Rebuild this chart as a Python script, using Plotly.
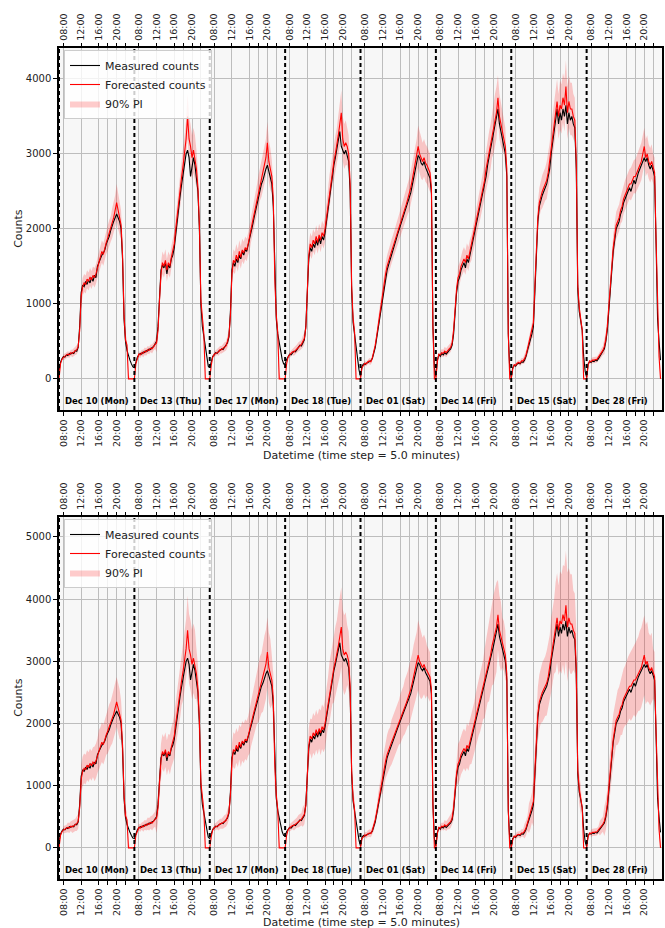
import plotly.graph_objects as go

# ---------------- data: 20-minute samples from 07:00 to 23:40 for each day ----------------
day_labels = ["Dec 10 (Mon)", "Dec 13 (Thu)", "Dec 17 (Mon)", "Dec 18 (Tue)",
              "Dec 01 (Sat)", "Dec 14 (Fri)", "Dec 15 (Sat)", "Dec 28 (Fri)"]
tick_hours = [1, 5, 9, 11, 13, 15]          # offsets (h) from 07:00
tick_texts = ["08:00", "12:00", "16:00", "", "20:00", ""]
hours_per_day = 17
step_h = 1 / 3

measured_d1 = [100, 220, 270, 300, 290, 320, 310, 340, 330, 350, 340, 380, 370, 420, 700, 1150, 1250,
               1230, 1300, 1260, 1320, 1280, 1350, 1300, 1380, 1350, 1500, 1560, 1600, 1650, 1680, 1720,
               1800, 1850, 1900, 1980, 2050, 2100, 2150, 2200, 2150, 2100, 2000, 1600, 800, 500, 380,
               300, 250, 200, 160]
measured_d2 = [150, 230, 290, 320, 340, 330, 360, 350, 380, 370, 400, 390, 420, 430, 470, 500, 700,
               1100, 1450, 1520, 1480, 1550, 1400, 1520, 1480, 1600, 1650, 1750, 1950, 2150, 2300, 2450,
               2600, 2750, 2900, 3000, 3050, 2950, 2700, 2850, 2950, 2850, 2700, 2500, 2000, 1000, 700,
               550, 400, 260, 170]
measured_d3 = [150, 250, 300, 320, 350, 340, 370, 380, 400, 390, 420, 450, 480, 560, 900, 1450, 1550,
               1500, 1600, 1550, 1650, 1600, 1700, 1650, 1720, 1700, 1780, 1850, 1950, 2050, 2150, 2250,
               2350, 2450, 2550, 2600, 2650, 2750, 2800, 2850, 2750, 2700, 2600, 2300, 1300, 800, 600,
               480, 350, 260, 200]
measured_d4 = [200, 260, 300, 330, 320, 350, 370, 360, 400, 420, 450, 440, 480, 520, 700, 1200, 1600,
               1750, 1700, 1800, 1750, 1850, 1780, 1880, 1800, 1900, 1850, 1950, 2100, 2300, 2450, 2600,
               2750, 2850, 2950, 3050, 3150, 3300, 3100, 3050, 3000, 3050, 2950, 2900, 2500, 1200, 750,
               600, 450, 250, 120]
measured_d5 = [30, 170, 200, 190, 210, 220, 220, 240, 270, 330, 420, 550, 680, 820, 980, 1120, 1250,
               1350, 1450, 1520, 1580, 1650, 1720, 1780, 1850, 1920, 1980, 2030, 2100, 2150, 2220, 2280,
               2350, 2400, 2480, 2580, 2680, 2780, 2880, 2980, 2950, 2880, 2850, 2900, 2820, 2780, 2720,
               2680, 2480, 700, 150]
measured_d6 = [30, 250, 320, 300, 340, 320, 350, 330, 360, 380, 400, 450, 600, 900, 1150, 1300, 1350,
               1450, 1500, 1550, 1480, 1600, 1550, 1650, 1700, 1800, 1900, 2000, 2100, 2200, 2300, 2400,
               2500, 2600, 2700, 2850, 2950, 3050, 3150, 3250, 3350, 3450, 3600, 3400, 3300, 3200, 3150,
               3000, 2700, 600, 120]
measured_d7 = [20, 150, 180, 170, 200, 210, 200, 230, 220, 250, 300, 380, 450, 520, 600, 700, 1200,
               1800, 2100, 2300, 2400, 2450, 2500, 2550, 2600, 2700, 2800, 3000, 3150, 3300, 3450, 3600,
               3400, 3550, 3450, 3600, 3500, 3650, 3400, 3550, 3450, 3500, 3400, 3350, 2800, 1200, 900,
               750, 650, 300, 100]
measured_d8 = [20, 200, 230, 220, 240, 230, 250, 240, 270, 300, 330, 360, 400, 500, 650, 900, 1200,
               1500, 1700, 1850, 2000, 2050, 2100, 2200, 2250, 2350, 2400, 2450, 2500, 2550, 2500, 2600,
               2650, 2600, 2700, 2750, 2800, 2850, 2900, 2950, 2900, 2950, 2850, 2800, 2850, 2750, 2700,
               1800, 800, 500, 250]

forecast_d1 = [0, 200, 260, 290, 300, 310, 330, 320, 350, 340, 360, 370, 390, 430, 650, 1100, 1230,
               1280, 1260, 1330, 1300, 1360, 1320, 1380, 1350, 1400, 1480, 1580, 1620, 1700, 1660, 1750,
               1820, 1880, 1950, 2000, 2080, 2150, 2250, 2350, 2250, 2150, 2050, 1650, 850, 520, 450,
               0, 0, 0, 0]
forecast_d2 = [0, 200, 280, 330, 320, 350, 340, 370, 360, 390, 380, 410, 400, 440, 460, 480, 650,
               1050, 1400, 1550, 1500, 1580, 1450, 1550, 1500, 1620, 1700, 1800, 2000, 2200, 2350, 2500,
               2700, 2850, 3000, 3200, 3500, 3200, 3100, 2950, 3050, 2950, 2800, 2550, 2050, 1050, 750,
               600, 0, 0, 0]
forecast_d3 = [0, 180, 290, 330, 340, 360, 360, 390, 390, 410, 430, 440, 500, 580, 850, 1400, 1580,
               1550, 1650, 1580, 1700, 1620, 1720, 1680, 1750, 1720, 1800, 1880, 2000, 2100, 2200, 2300,
               2400, 2500, 2600, 2650, 2750, 2850, 2950, 3150, 2900, 2800, 2700, 2400, 1350, 850, 620,
               0, 0, 0, 0]
forecast_d4 = [0, 200, 290, 320, 340, 360, 360, 380, 410, 430, 440, 460, 500, 540, 680, 1150, 1650,
               1800, 1750, 1850, 1800, 1900, 1820, 1920, 1850, 1950, 1900, 2000, 2150, 2350, 2500, 2650,
               2800, 2900, 3000, 3100, 3250, 3400, 3550, 3200, 3100, 3150, 3100, 3000, 2600, 1250, 800,
               620, 0, 0, 0]
forecast_d5 = [0, 150, 190, 210, 200, 230, 240, 230, 280, 350, 450, 580, 720, 860, 1020, 1150, 1300,
               1400, 1500, 1580, 1620, 1700, 1760, 1820, 1900, 1960, 2020, 2080, 2150, 2200, 2270, 2330,
               2400, 2460, 2550, 2650, 2750, 2850, 2950, 3100, 3000, 2950, 2900, 2950, 2880, 2850, 2800,
               2750, 2550, 700, 0]
forecast_d6 = [0, 230, 330, 320, 350, 340, 370, 350, 380, 400, 420, 480, 650, 950, 1200, 1350, 1400,
               1500, 1550, 1600, 1550, 1650, 1600, 1700, 1750, 1850, 1950, 2050, 2150, 2250, 2350, 2450,
               2550, 2650, 2800, 2900, 3000, 3100, 3250, 3350, 3450, 3550, 3750, 3500, 3400, 3300, 3250,
               3100, 2800, 600, 0]
forecast_d7 = [0, 130, 190, 180, 210, 220, 210, 240, 240, 270, 320, 400, 480, 550, 650, 750, 1250,
               1850, 2150, 2350, 2450, 2500, 2550, 2600, 2650, 2750, 2900, 3100, 3250, 3400, 3550, 3700,
               3500, 3650, 3600, 3750, 3650, 3900, 3550, 3700, 3600, 3600, 3500, 3450, 2900, 1250, 950,
               780, 650, 0, 0]
forecast_d8 = [0, 180, 240, 230, 250, 250, 260, 260, 290, 320, 350, 380, 430, 530, 700, 950, 1250,
               1550, 1750, 1900, 2050, 2100, 2150, 2250, 2300, 2400, 2450, 2500, 2550, 2600, 2600, 2650,
               2700, 2700, 2750, 2800, 2850, 2900, 3000, 3100, 2950, 3000, 2900, 2850, 2900, 2800, 2750,
               1850, 850, 300, 0]

# half-width of the 90% prediction interval, one value per hour (07:00 ... 23:00)
pi_top_d1 = [0, 40, 40, 50, 60, 120, 120, 120, 130, 150, 150, 170, 200, 250, 200, 80, 0]
pi_top_d2 = [0, 40, 50, 50, 60, 120, 150, 150, 150, 170, 200, 250, 300, 300, 250, 100, 0]
pi_top_d3 = [0, 40, 50, 60, 80, 150, 150, 150, 150, 170, 200, 220, 250, 280, 220, 100, 0]
pi_top_d4 = [0, 40, 50, 60, 80, 150, 150, 150, 160, 180, 220, 250, 300, 300, 250, 100, 0]
pi_top_d5 = [0, 30, 40, 50, 100, 150, 150, 160, 170, 180, 200, 220, 250, 280, 250, 250, 100]
pi_top_d6 = [0, 50, 60, 60, 100, 150, 160, 160, 170, 200, 220, 260, 300, 350, 300, 250, 100]
pi_top_d7 = [0, 30, 40, 60, 100, 200, 200, 220, 250, 280, 300, 330, 350, 350, 300, 100, 0]
pi_top_d8 = [0, 40, 40, 60, 100, 150, 180, 180, 200, 200, 220, 230, 250, 250, 230, 200, 50]

pi_bot_d1 = [0, 60, 80, 100, 120, 240, 240, 240, 280, 320, 320, 360, 400, 400, 320, 120, 0]
pi_bot_d2 = [0, 60, 80, 100, 120, 240, 280, 280, 320, 360, 400, 480, 560, 560, 400, 120, 0]
pi_bot_d3 = [0, 60, 80, 100, 120, 280, 280, 320, 320, 360, 400, 480, 560, 560, 400, 120, 0]
pi_bot_d4 = [0, 60, 80, 100, 160, 280, 320, 320, 360, 400, 480, 560, 640, 640, 480, 160, 0]
pi_bot_d5 = [0, 50, 60, 80, 160, 280, 320, 360, 360, 400, 440, 480, 520, 560, 480, 400, 120]
pi_bot_d6 = [0, 60, 80, 100, 200, 320, 320, 360, 400, 440, 480, 560, 640, 720, 560, 400, 120]
pi_bot_d7 = [0, 50, 60, 120, 240, 400, 440, 480, 520, 600, 720, 800, 880, 800, 640, 240, 0]
pi_bot_d8 = [0, 60, 60, 120, 240, 360, 400, 440, 480, 520, 560, 600, 640, 640, 560, 400, 80]

measured_days = [measured_d1, measured_d2, measured_d3, measured_d4,
                 measured_d5, measured_d6, measured_d7, measured_d8]
forecast_days = [forecast_d1, forecast_d2, forecast_d3, forecast_d4,
                 forecast_d5, forecast_d6, forecast_d7, forecast_d8]
pi_top_days = [pi_top_d1, pi_top_d2, pi_top_d3, pi_top_d4, pi_top_d5, pi_top_d6, pi_top_d7, pi_top_d8]
pi_bot_days = [pi_bot_d1, pi_bot_d2, pi_bot_d3, pi_bot_d4, pi_bot_d5, pi_bot_d6, pi_bot_d7, pi_bot_d8]

# ---------------- build series ----------------
xs, meas, fc, lo1, hi1, lo2, hi2 = [], [], [], [], [], [], []
for d in range(len(day_labels)):
    for k, (m, f) in enumerate(zip(measured_days[d], forecast_days[d])):
        xs.append(d * hours_per_day + k * step_h)
        meas.append(m)
        fc.append(f)
        w1 = pi_top_days[d][k // 3]
        w2 = pi_bot_days[d][k // 3]
        lo1.append(max(f - w1, 0)); hi1.append(f + w1)
        lo2.append(max(f - w2, 0)); hi2.append(f + w2)

tickvals, ticktext = [], []
for d in range(len(day_labels)):
    for h, t in zip(tick_hours, tick_texts):
        tickvals.append(d * hours_per_day + h)
        ticktext.append(t)

W, H = 665, 928
xdom = [59 / W, 662 / W]
ydoms = [[1 - 410 / H, 1 - 47.7 / H], [1 - 879 / H, 1 - 516.7 / H]]
yranges = [[-415, 4417], [-500, 5326]]
ytickvals = [[0, 1000, 2000, 3000, 4000], [0, 1000, 2000, 3000, 4000, 5000]]
xrange_ = [0, hours_per_day * len(day_labels)]

fig = go.Figure()
PINK = "rgba(255,0,0,0.2)"
FONT = "DejaVu Sans"

for p, (lo, hi) in enumerate([(lo1, hi1), (lo2, hi2)]):
    xa = "x" if p == 0 else "x3"
    ya = "y" if p == 0 else "y2"
    lg = "legend" if p == 0 else "legend2"
    fig.add_trace(go.Scatter(x=xs, y=lo, xaxis=xa, yaxis=ya, mode="lines",
                             line=dict(width=0), showlegend=False, hoverinfo="skip"))
    fig.add_trace(go.Scatter(x=xs, y=hi, xaxis=xa, yaxis=ya, mode="lines",
                             line=dict(width=0), fill="tonexty", fillcolor=PINK,
                             name="90% PI", legend=lg, legendrank=3))
    fig.add_trace(go.Scatter(x=xs, y=meas, xaxis=xa, yaxis=ya, mode="lines",
                             line=dict(color="black", width=1.1), name="Measured counts",
                             legend=lg, legendrank=1))
    fig.add_trace(go.Scatter(x=xs, y=fc, xaxis=xa, yaxis=ya, mode="lines",
                             line=dict(color="red", width=1.1), name="Forecasted counts",
                             legend=lg, legendrank=2))
    fig.add_trace(go.Scatter(x=[0], y=[0], xaxis=("x2" if p == 0 else "x4"), yaxis=ya,
                             mode="markers", marker=dict(opacity=0), showlegend=False,
                             hoverinfo="skip"))

common_x = dict(range=xrange_, tickmode="array", tickvals=tickvals, ticktext=ticktext,
                tickangle=-90, ticks="outside", ticklen=4, tickwidth=1, tickcolor="black",
                tickfont=dict(family=FONT, size=9.5, color="#222"),
                domain=xdom, zeroline=False)
layout = dict(width=W, height=H, margin=dict(l=0, r=0, t=0, b=0),
              paper_bgcolor="white", plot_bgcolor="#f7f7f7", showlegend=True)

for p in range(2):
    xb = "xaxis" if p == 0 else "xaxis3"
    xt = "xaxis2" if p == 0 else "xaxis4"
    yk = "yaxis" if p == 0 else "yaxis2"
    yref = "y" if p == 0 else "y2"
    xref = "x" if p == 0 else "x3"
    layout[xb] = dict(common_x, anchor=yref, side="bottom", showgrid=True,
                      gridcolor="#bdbdbd", gridwidth=1, showline=True, linecolor="black",
                      linewidth=1.5, mirror=True)
    layout[xt] = dict(common_x, anchor=yref, side="top", overlaying=xref, showgrid=False,
                      showline=False)
    layout[yk] = dict(domain=ydoms[p], anchor=xref, range=yranges[p], tickmode="array",
                      tickvals=ytickvals[p], ticks="outside", ticklen=4, tickwidth=1,
                      tickcolor="black", tickfont=dict(family=FONT, size=10, color="#222"),
                      showgrid=True, gridcolor="#bdbdbd", gridwidth=1, zeroline=False,
                      showline=True, linecolor="black", linewidth=1.5, mirror=True)

legend_common = dict(x=64 / W, xanchor="left", bgcolor="rgba(255,255,255,0.8)",
                     bordercolor="#cccccc", borderwidth=1, traceorder="normal",
                     font=dict(family=FONT, size=11, color="#222"), itemwidth=30,
                     tracegroupgap=0)
layout["legend"] = dict(legend_common, y=1 - 50 / H, yanchor="top")
layout["legend2"] = dict(legend_common, y=1 - 519 / H, yanchor="top")
fig.update_layout(**layout)

shapes, annotations = [], []
for p in range(2):
    xref = "x" if p == 0 else "x3"
    yref = "y domain" if p == 0 else "y2 domain"
    for d in range(len(day_labels)):
        shapes.append(dict(type="line", xref=xref, yref=yref, x0=d * hours_per_day,
                           x1=d * hours_per_day, y0=0, y1=1,
                           line=dict(color="black", width=2, dash="4px,3px")))
        annotations.append(dict(xref=xref, yref=yref, x=d * hours_per_day + 0.8, y=0.026,
                                xanchor="left", yanchor="middle", showarrow=False,
                                text=day_labels[d],
                                font=dict(family=FONT, size=8.5, color="black", weight="bold")))
    annotations.append(dict(xref="paper", yref="paper", x=19 / W,
                            y=(ydoms[p][0] + ydoms[p][1]) / 2, textangle=-90,
                            xanchor="center", yanchor="middle",
                            showarrow=False, text="Counts",
                            font=dict(family=FONT, size=11, color="#222")))
annotations.append(dict(xref="paper", yref="paper", x=361 / W, y=1 - 455 / H,
                        xanchor="center", yanchor="middle",
                        showarrow=False, text="Datetime (time step = 5.0 minutes)",
                        font=dict(family=FONT, size=11, color="#222")))
annotations.append(dict(xref="paper", yref="paper", x=361 / W, y=0,
                        xanchor="center", yanchor="bottom", yshift=-2.5,
                        showarrow=False, text="Datetime (time step = 5.0 minutes)",
                        font=dict(family=FONT, size=11, color="#222")))
fig.update_layout(shapes=shapes, annotations=annotations)

fig.write_html("out.html", config={"displayModeBar": False},
               post_script="document.body.style.margin='0px';")
